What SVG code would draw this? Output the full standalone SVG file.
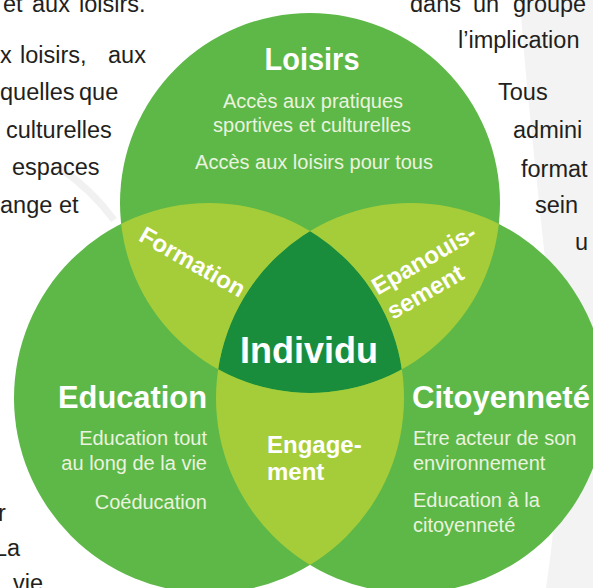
<svg xmlns="http://www.w3.org/2000/svg" width="593" height="588" viewBox="0 0 593 588">
  <style>
    .bg { font-family: "Liberation Sans", Arial, sans-serif; font-size: 23.5px; fill: #231f20; }
    .title { font-family: "Liberation Sans", Arial, sans-serif; font-weight: bold; font-size: 32px; fill: #ffffff; }
    .sub { font-family: "Liberation Sans", Arial, sans-serif; font-size: 20px; fill: #eaf3df; }
    .lens { font-family: "Liberation Sans", Arial, sans-serif; font-weight: bold; font-size: 24px; fill: #ffffff; }
    .mid { fill: #5db848; }
    .light { fill: #a5cd39; }
    .dark { fill: #1a8d3c; }
  </style>
  <defs>
    <clipPath id="cT"><circle cx="310" cy="203" r="190"/></clipPath>
    <clipPath id="cL"><circle cx="209" cy="398" r="195"/></clipPath>
    <clipPath id="cR"><circle cx="411" cy="398" r="195"/></clipPath>
    <mask id="notT"><rect width="593" height="588" fill="#fff"/><circle cx="310" cy="203" r="190" fill="#000"/></mask>
    <mask id="notL"><rect width="593" height="588" fill="#fff"/><circle cx="209" cy="398" r="195" fill="#000"/></mask>
    <mask id="notR"><rect width="593" height="588" fill="#fff"/><circle cx="411" cy="398" r="195" fill="#000"/></mask>
  </defs>

  <rect width="593" height="588" fill="#ffffff"/>

  <!-- faint background swooshes -->
  <path d="M 520 0 C 530 150 560 350 558 450 C 556 520 550 560 546 588 L 593 588 L 593 0 Z" fill="#f3f3f3"/>
  <path d="M 60 168 Q 92 190 114 220" fill="none" stroke="#f1f1f1" stroke-width="7"/>

  <!-- background text fragments -->
  <g id="background-text">
    <text class="bg" y="12"><tspan x="3">et</tspan><tspan x="32">aux</tspan><tspan x="79">loisirs.</tspan></text>
    <text class="bg" y="63"><tspan x="0">x</tspan><tspan x="20">loisirs,</tspan><tspan x="108">aux</tspan></text>
    <text class="bg" y="100"><tspan x="0">quelles</tspan><tspan x="79">que</tspan></text>
    <text class="bg" x="6" y="138">culturelles</text>
    <text class="bg" x="12" y="175">espaces</text>
    <text class="bg" y="213"><tspan x="0">ange</tspan><tspan x="59">et</tspan></text>
    <text class="bg" x="-2" y="521">r</text>
    <text class="bg" x="-6" y="556">La</text>
    <text class="bg" x="13" y="591">vie</text>
    <text class="bg" y="12"><tspan x="410">dans</tspan><tspan x="473">un</tspan><tspan x="513">groupe</tspan></text>
    <text class="bg" x="458" y="48">l’implication</text>
    <text class="bg" x="498" y="100">Tous</text>
    <text class="bg" x="513" y="138">admini</text>
    <text class="bg" x="521" y="177">format</text>
    <text class="bg" x="535" y="213">sein</text>
    <text class="bg" x="575" y="250">u</text>
  </g>

  <g id="loisirs">
    <circle class="mid" cx="310" cy="203" r="190"/>
    <text class="title" x="312" y="70" text-anchor="middle" textLength="95" lengthAdjust="spacingAndGlyphs">Loisirs</text>
    <text class="sub" x="313" y="108" text-anchor="middle">Accès aux pratiques</text>
    <text class="sub" x="312" y="132" text-anchor="middle">sportives et culturelles</text>
    <text class="sub" x="314" y="169" text-anchor="middle">Accès aux loisirs pour tous</text>
  </g>

  <g id="education">
    <circle class="mid" cx="209" cy="398" r="195"/>
    <text class="title" x="207" y="408" text-anchor="end" textLength="149" lengthAdjust="spacingAndGlyphs">Education</text>
    <text class="sub" x="207" y="445" text-anchor="end">Education tout</text>
    <text class="sub" x="207" y="470" text-anchor="end">au long de la vie</text>
    <text class="sub" x="207" y="509" text-anchor="end">Coéducation</text>
  </g>

  <g id="citoyennete">
    <circle class="mid" cx="411" cy="398" r="195"/>
    <text class="title" x="412" y="408" textLength="178" lengthAdjust="spacingAndGlyphs">Citoyenneté</text>
    <text class="sub" x="413" y="445">Etre acteur de son</text>
    <text class="sub" x="413" y="470">environnement</text>
    <text class="sub" x="413" y="507">Education à la</text>
    <text class="sub" x="413" y="532">citoyenneté</text>
  </g>

  <g id="individu">
    <g clip-path="url(#cR)">
      <circle class="dark" cx="209" cy="398" r="195" clip-path="url(#cT)"/>
    </g>
    <text class="title" x="309" y="363" text-anchor="middle" style="font-size:36px">Individu</text>
  </g>

  <g id="formation">
    <g mask="url(#notR)">
      <circle class="light" cx="209" cy="398" r="195" clip-path="url(#cT)"/>
    </g>
    <text class="lens" transform="translate(188.5 269) rotate(29.5)" text-anchor="middle">Formation</text>
  </g>

  <g id="epanouissement">
    <g mask="url(#notL)">
      <circle class="light" cx="411" cy="398" r="195" clip-path="url(#cT)"/>
    </g>
    <g transform="translate(427 267) rotate(-30)">
      <text class="lens" x="-57" y="0">Epanouis-</text>
      <text class="lens" x="-56" y="29">sement</text>
    </g>
  </g>

  <g id="engagement">
    <g mask="url(#notT)">
      <circle class="light" cx="209" cy="398" r="195" clip-path="url(#cR)"/>
    </g>
    <text class="lens" x="267" y="453">Engage-</text>
    <text class="lens" x="267" y="480">ment</text>
  </g>

  <g id="connectors"></g>
</svg>
